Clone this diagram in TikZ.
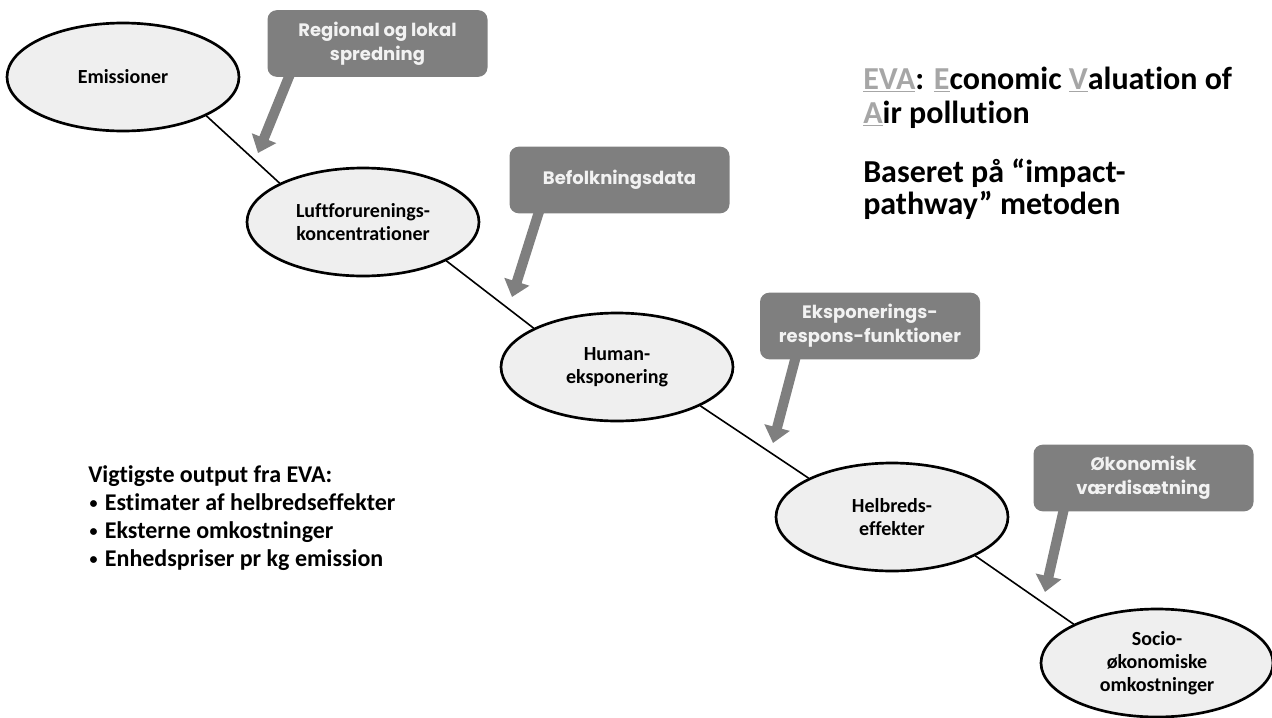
\documentclass[tikz,border=0pt]{standalone}
\usepackage{fontspec}
\setmainfont{Carlito}[Ligatures=NoCommon]
\newfontfamily\boxfont{Poppins}
\usetikzlibrary{shapes.geometric,arrows.meta}
\definecolor{boxgray}{HTML}{7F7F7F}
\definecolor{ellfill}{HTML}{EFEFEF}
\definecolor{boxtext}{HTML}{F2F2F2}
\definecolor{evagray}{HTML}{A6A6A6}
\newcommand{\evaletter}[1]{\textcolor{evagray}{\underline{#1}}}
\newcommand{\dotitem}{\makebox[12.5pt][l]{\hspace{1pt}\raisebox{1.5pt}{\fontsize{12}{12}\selectfont•}}}

\begin{document}
\begin{tikzpicture}[x=0.75pt,y=-0.75pt,
    stage/.style = {draw, ellipse, line width=2pt, fill=ellfill, minimum width=174pt, minimum height=81pt, inner sep=0pt, align=center, font=\bfseries\fontsize{15}{17.3}\selectfont},
    input/.style = {rounded corners=7pt, fill=boxgray, minimum width=165pt, minimum height=50pt, align=center, text=boxtext, font=\boxfont\bfseries\fontsize{13.5}{18}\selectfont},
    feed/.style = {draw=boxgray, line width=7.5pt, -{Triangle[width=19pt,length=12pt]}},
    note/.style = {anchor=north west, inner sep=0pt, align=left}]
  \useasboundingbox (0,0) rectangle (1272,718);
  % the pathway
  \node[stage] (emis) at (123,77) {Emissioner};
  \node[stage] (luft) at (363,222) {Luftforurenings-\\koncentrationer};
  \node[stage] (human) at (617,367) {Human-\\eksponering};
  \node[stage] (helbred) at (892,517) {Helbreds-\\effekter};
  \node[stage] (socio) at (1157,663) {Socio-\\økonomiske\\omkostninger};
  %
  \foreach \a/\b in {emis/luft, luft/human, human/helbred, helbred/socio}
    \draw[line width=1.2pt] (\a.-25) -- (\b.155);
  % inputs
  \node[input] (spred) at (377.5,43.5) {Regional og lokal\\spredning};
  \node[input] (befolk) at (619.5,180) {Befolkningsdata};
  \node[input] (respons) at (870,326) {Eksponerings-\\respons-funktioner};
  \node[input] (vaerdi) at (1143.5,478) {Økonomisk\\værdisætning};
  %
  \coordinate (t1) at (258,153);
  \coordinate (t2) at (512,297);
  \coordinate (t3) at (773,443);
  \coordinate (t4) at (1045,592);
  \draw[feed] ([xshift=17pt,yshift=2pt]spred.south west) -- (t1);
  \draw[feed] ([xshift=22.5pt,yshift=2pt]befolk.south west) -- (t2);
  \draw[feed] ([xshift=27pt,yshift=2pt]respons.south west) -- (t3);
  \draw[feed] ([xshift=23pt,yshift=2pt]vaerdi.south west) -- (t4);
  % texts
  \node[note, font=\bfseries\fontsize{24}{25.5}\selectfont] (eva) at (863,67)
    {\evaletter{EVA}: \evaletter{E}conomic \evaletter{V}aluation of\\\evaletter{A}ir pollution};
  \node[note, font=\bfseries\fontsize{24}{23.5}\selectfont] (metode) at (863,159)
    {Baseret på “impact-\\pathway” metoden};
  \node[note, font=\bfseries\fontsize{18}{21}\selectfont] (output) at (88,465)
    {Vigtigste output fra EVA:\\\dotitem Estimater af helbredseffekter\\\dotitem Eksterne omkostninger\\\dotitem Enhedspriser pr kg emission};
\end{tikzpicture}
\end{document}
